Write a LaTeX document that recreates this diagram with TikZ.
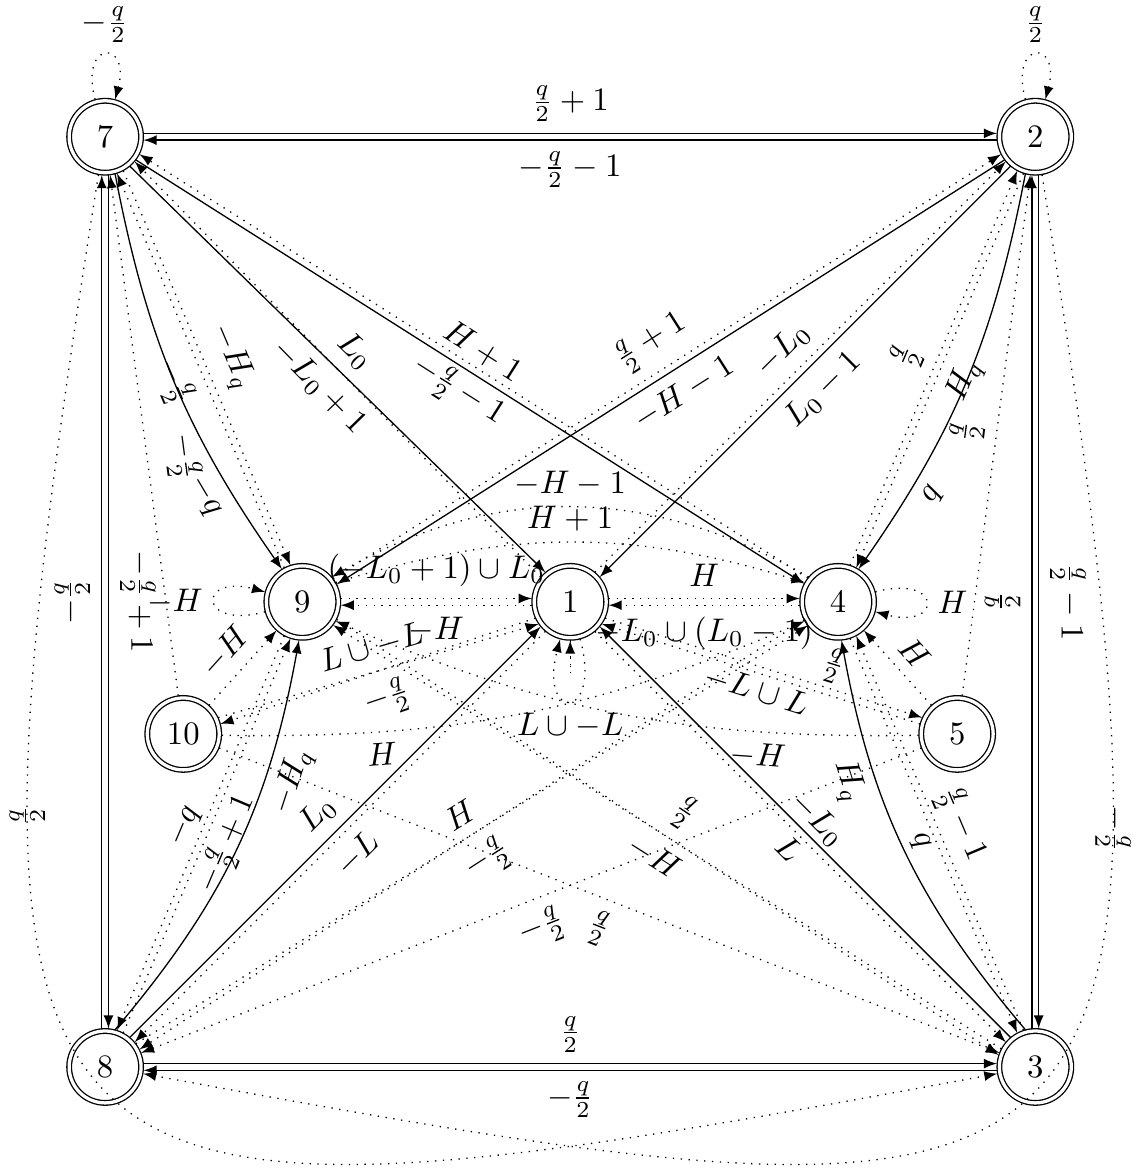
\documentclass[tikz,border=0pt]{standalone}
\usepackage{amsmath,amssymb}
\usetikzlibrary{arrows, calc}

\begin{document}
\begin{tikzpicture}[>=latex,
  st/.style={circle, draw, double, double distance=1pt, minimum size=22pt, inner sep=0pt, outer sep=0.8pt},
  lab/.style={sloped}]
\useasboundingbox (-1.13,-1.14) rectangle (11.08,11.47);
% states
\node[st] (n7) at (0,10) {7};
\node[st] (n2) at (10,10) {2};
\node[st] (n8) at (0,0) {8};
\node[st] (n3) at (10,0) {3};
\node[st] (n9) at (2.12,5) {9};
\node[st] (n1) at (5,5) {1};
\node[st] (n4) at (7.88,5) {4};
\node[st] (n10) at (0.84,3.58) {10};
\node[st] (n5) at (9.16,3.58) {5};

% outer square
\draw[->] (n7.5) -- node[lab, above] {$\frac{q}{2}+1$} (n2.175);
\draw[->] (n2.185) -- node[lab, below] {$-\frac{q}{2}-1$} (n7.-5);
\draw[->] (n8.5) -- node[lab, above] {$\frac{q}{2}$} (n3.175);
\draw[->] (n3.185) -- node[lab, below] {$-\frac{q}{2}$} (n8.-5);
\draw[->] (n7.-85) -- node[lab, above] {$-\frac{q}{2}+1$} (n8.85);
\draw[->] (n8.95) -- node[lab, above] {$-\frac{q}{2}$} (n7.-95);
\draw[->] (n2.-85) -- node[lab, above] {$\frac{q}{2}-1$} (n3.85);
\draw[->] (n3.95) -- node[lab, above] {$\frac{q}{2}$} (n2.-95);

% loops
\draw[->, dotted] (n7) to[loop above, looseness=8] node[above] {$-\frac{q}{2}$} (n7);
\draw[->, dotted] (n2) to[loop above, looseness=8] node[above] {$\frac{q}{2}$} (n2);
\draw[->, dotted] (n9) to[loop left, looseness=9] node[left] {$-H$} (n9);
\draw[->, dotted] (n4) to[loop right, looseness=9] node[right] {$H$} (n4);
\draw[->, dotted] (n1) to[loop below, looseness=11] node[below] {$L\cup -L$} (n1);
\draw[->, dotted] (n1) to[loop, out=-90, in=-90, min distance=4.5mm] (n1);

% big curves
\draw[->, dotted] (n7.-100) .. controls (-1.9,-1.95) and (-1.1,-2.05) .. node[pos=0.25, rotate=90, left] {$\frac{q}{2}$} (n3.190);
\draw[->, dotted] (n2.-80) .. controls (11.9,-1.95) and (11.1,-2.05) .. node[pos=0.25, rotate=-90, right] {$-\frac{q}{2}$} (n8.-10);

% 7 and 2 down to the middle
\draw[->] (n7.-50) -- node[lab, above] {$L_0$} (n1.130);
\draw[->, dotted] (n1.140) -- node[lab, below] {$-L_0+1$} (n7.-40);
\draw[->] (n2.230) -- node[lab, below] {$L_0-1$} (n1.40);
\draw[->, dotted] (n1.50) -- node[lab, above] {$-L_0$} (n2.220);
\draw[->] (n7.-37.4) -- node[lab, above] {$H+1$} (n4.152.6);
\draw[->, dotted] (n4.142.6) -- node[lab, below] {$-\frac{q}{2}-1$} (n7.-27.4);
\draw[->] (n2.217.4) -- node[lab, below] {$-H-1$} (n9.27.4);
\draw[->, dotted] (n9.37.4) -- node[lab, above] {$\frac{q}{2}+1$} (n2.207.4);
\draw[->, dotted] (n7.-62) -- node[lab, above] {$-H_q$} (n9.108);
\draw[->, dotted] (n9.118) -- node[lab, below] {$-\frac{q}{2}$} (n7.-72);
\draw[->] (n7.-75) to[bend right=12] node[lab, below, pos=0.78] {$-q$} (n9.122);
\draw[->, dotted] (n4.72) -- node[lab, above] {$\frac{q}{2}$} (n2.-118);
\draw[->, dotted] (n2.-108) -- node[lab, below] {$H_q$} (n4.62);
\draw[->] (n2.-105) to[bend left=12] node[lab, below, pos=0.78] {$q$} (n4.58);
\draw[->, dotted] (n10) -- node[lab, above=2pt, pos=0.45] {$-\frac{q}{2}$} (n7);
\draw[->, dotted] (n5) -- node[lab, above] {$\frac{q}{2}$} (n2);

% 8 and 3 up to the middle
\draw[->] (n8.50) -- node[lab, above] {$L_0$} (n1.220);
\draw[->, dotted] (n1.230) -- node[lab, below] {$-L$} (n8.40);
\draw[->] (n3.130) -- node[lab, below] {$L$} (n1.320);
\draw[->, dotted] (n1.-50) -- node[lab, above] {$-L_0$} (n3.140);
\draw[->, dotted] (n8.37.4) -- node[lab, above] {$H$} (n4.-142.6);
\draw[->, dotted] (n4.-152.6) -- node[lab, below] {$-\frac{q}{2}$} (n8.27.4);
\draw[->, dotted] (n9.-27.4) -- node[lab, above] {$\frac{q}{2}$} (n3.162.6);
\draw[->, dotted] (n3.152.6) -- node[lab, below] {$-H$} (n9.-37.4);
\draw[->, dotted] (n8.62) -- node[lab, above] {$-q$} (n9.-108);
\draw[->, dotted] (n9.-118) -- node[lab, below] {$-\frac{q}{2}+1$} (n8.72);
\draw[->] (n8.75) to[bend right=15] node[lab, below, pos=0.7] {$-H_q$} (n9.-95);
\draw[->, dotted] (n4.-72) -- node[lab, above] {$\frac{q}{2}-1$} (n3.118);
\draw[->, dotted] (n3.108) -- node[lab, below] {$q$} (n4.-62);
\draw[->] (n3.105) to[bend left=15] node[lab, below, pos=0.7] {$H_q$} (n4.-85);
\draw[->, dotted] (n5) -- node[lab, below] {$-\frac{q}{2}$} (n8);
\draw[->, dotted] (n10) -- node[lab, below] {$\frac{q}{2}$} (n3);

% middle row
\draw[->, dotted] (n9.5) -- node[lab, above] {$(-L_0+1)\cup L_0$} (n1.175);
\draw[->, dotted] (n1.185) -- node[lab, below] {$-H$} (n9.-5);
\draw[->, dotted] (n1.5) -- node[lab, above] {$H$} (n4.175);
\draw[->, dotted] (n4.185) -- node[lab, below] {$-L_0\cup(L_0-1)$} (n1.-5);
\draw[->, dotted] (n9.30) to[bend left=17] node[lab, above] {$H+1$} (n4.150);
\draw[->, dotted] (n4.140) to[bend right=30] node[lab, above] {$-H-1$} (n9.40);
\draw[->, dotted] (n10) -- node[lab, above] {$-H$} (n9);
\draw[->, dotted] (n5) -- node[lab, above] {$H$} (n4);
\draw[->, dotted] (n10.25) -- node[lab, above] {$L\cup -L$} (n1.-145);
\draw[->, dotted] (n1.-155) -- node[lab, below] {$-\frac{q}{2}$} (n10.15);
\draw[->, dotted] (n1.-25) -- node[lab, below] {$-L\cup L$} (n5.155);
\draw[->, dotted] (n5.165) -- node[lab, above, pos=0.3] {$\frac{q}{2}$} (n1.-35);
\draw[->, dotted] (n10.-2) to[bend right=12] node[lab, below, pos=0.25] {$H$} (n4.-150);
\draw[->, dotted] (n5.182) to[bend left=12] node[lab, below, pos=0.25] {$-H$} (n9.-30);
\end{tikzpicture}
\end{document}
